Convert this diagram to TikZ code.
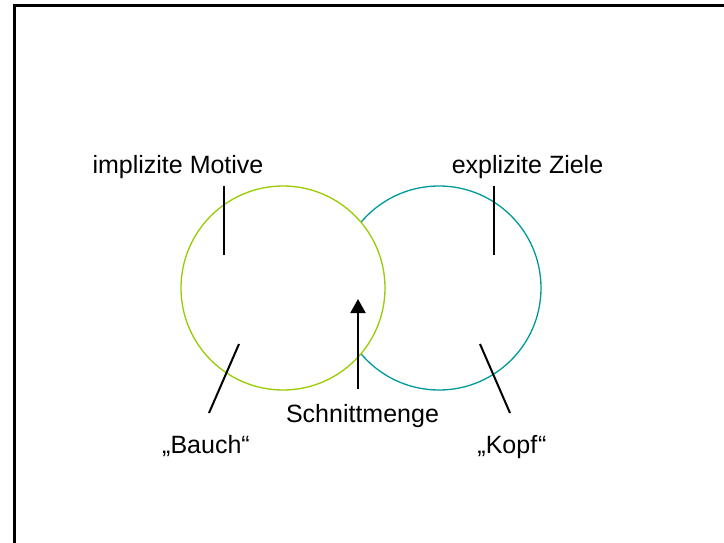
\documentclass[tikz,border=0pt]{standalone}
\usepackage{fontspec}
\setmainfont{Liberation Sans}
\usetikzlibrary{arrows.meta}
\definecolor{bauchgreen}{RGB}{153,204,0}
\definecolor{kopfteal}{RGB}{0,153,153}
\tikzset{
  ring/.style={circle, minimum size=204pt, inner sep=0pt, line width=1.3pt},
  label/.style={anchor=base, inner sep=0pt, font=\fontsize{25}{30}\selectfont},
  pointer/.style={line width=2pt, black},
}
\begin{document}
\begin{tikzpicture}[x=1pt,y=-1pt]
  \useasboundingbox (0,0) rectangle (724,543);
  % frame (right and bottom edges lie outside the page)
  \draw[line width=3pt] (14.5,560) -- (14.5,6) -- (760,6);

  % the two sets: the right one sits behind the left one
  \node[ring, draw=kopfteal] (kopf) at (439,288) {};
  \node[ring, draw=bauchgreen, fill=white] (bauch) at (283,288) {};

  % labels
  \node[label] (motive) at (178,174) {implizite Motive};
  \node[label] (ziele) at (527.5,174) {explizite Ziele};
  \node[label] (bauchtxt) at (206,453) {„Bauch“};
  \node[label] (kopftxt) at (512,453) {„Kopf\kern1pt“};
  \node[label] (schnitt) at (362.5,422) {Schnittmenge};

  % pointer lines
  \coordinate (m1) at (224,186); \coordinate (m2) at (224,255);
  \coordinate (z1) at (494,186); \coordinate (z2) at (494,255);
  \coordinate (b1) at (239,344); \coordinate (b2) at (209,413);
  \coordinate (k1) at (480,344); \coordinate (k2) at (510,413);
  \coordinate (s1) at (358,389); \coordinate (s2) at (358,299);
  \draw[pointer] (m1) -- (m2);
  \draw[pointer] (z1) -- (z2);
  \draw[pointer] (b1) -- (b2);
  \draw[pointer] (k1) -- (k2);
  \draw[pointer, -{Triangle[width=15pt,length=14pt]}] (s1) -- (s2);
\end{tikzpicture}
\end{document}
